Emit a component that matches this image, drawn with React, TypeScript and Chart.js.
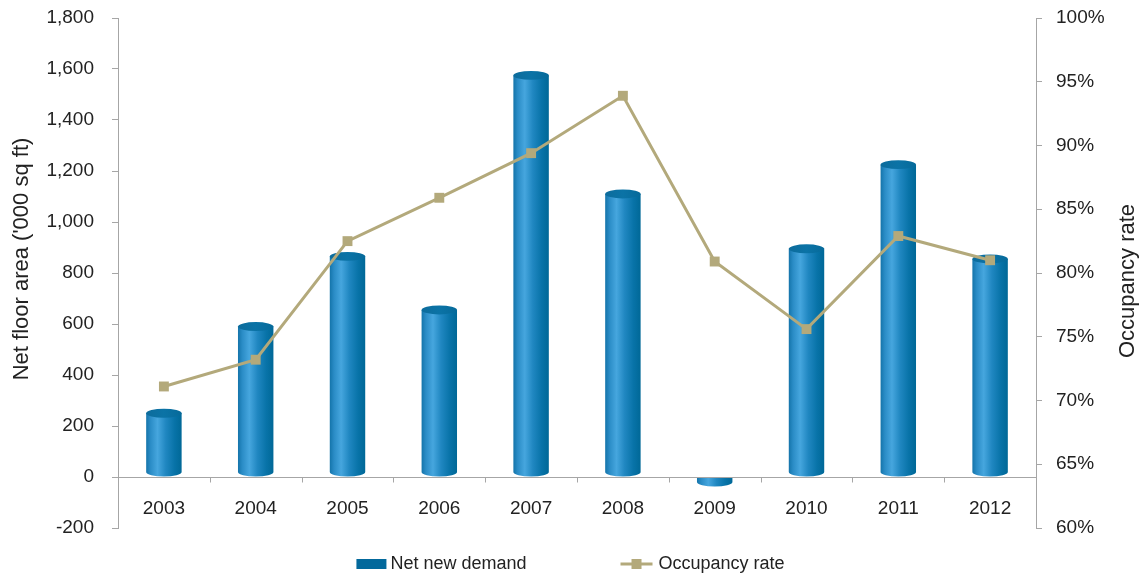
import React, { useEffect, useRef } from 'react';
import { Chart, registerables } from 'chart.js';

Chart.register(...registerables);

// Categories and series
const years = ['2003', '2004', '2005', '2006', '2007', '2008', '2009', '2010', '2011', '2012'];
const netNewDemand = [250, 590, 865, 655, 1575, 1110, -20, 895, 1225, 855];
const occupancyRate = [71.1, 73.2, 82.5, 85.9, 89.4, 93.9, 80.9, 75.6, 82.9, 81.0];

// Axis ranges
const areaMin = -200;
const areaMax = 1800;
const areaStep = 200;
const rateMin = 60;
const rateMax = 100;
const rateStep = 5;

const seriesNames = ['Net new demand', 'Occupancy rate'];
const leftTitle = "Net floor area ('000 sq ft)";
const rightTitle = 'Occupancy rate';

const FONT = '"Liberation Sans", Arial, Helvetica, sans-serif';
const AXIS_GREY = '#a6a6a6';
const TEXT = '#222222';
const LINE_TAN = '#b3a97b';
const BAR_SOLID = '#03699c';

function bodyGradient(ctx: CanvasRenderingContext2D, left: number, right: number) {
  const g = ctx.createLinearGradient(left, 0, right, 0);
  g.addColorStop(0, '#1474aa');
  g.addColorStop(0.12, '#2a8cc6');
  g.addColorStop(0.32, '#46a6de');
  g.addColorStop(0.55, '#2087c1');
  g.addColorStop(0.8, '#0873a8');
  g.addColorStop(1, '#006897');
  return g;
}

// Draws each bar of the bar dataset as a cylinder
const cylinderPlugin = {
  id: 'cylinders',
  afterDatasetDraw(chart: any, args: any) {
    if (args.meta.type !== 'bar') return;
    const ctx: CanvasRenderingContext2D = chart.ctx;
    ctx.save();
    args.meta.data.forEach((el: any) => {
      const { x, y, base, width } = el.getProps(['x', 'y', 'base', 'width'], true);
      const rx = width / 2;
      const ry = Math.max(3, width * 0.125);
      const left = x - rx;
      const right = x + rx;
      ctx.beginPath();
      if (y <= base) {
        ctx.moveTo(left, y);
        ctx.lineTo(left, base - ry);
        ctx.ellipse(x, base - ry, rx, ry, 0, Math.PI, 0, true);
        ctx.lineTo(right, y);
        ctx.closePath();
        ctx.fillStyle = bodyGradient(ctx, left, right);
        ctx.fill();
        // top face
        const tg = ctx.createLinearGradient(left, 0, right, 0);
        tg.addColorStop(0, '#0d6c9c');
        tg.addColorStop(0.5, '#0b73a6');
        tg.addColorStop(1, '#066a9a');
        ctx.beginPath();
        ctx.ellipse(x, y, rx, ry, 0, 0, Math.PI * 2);
        ctx.fillStyle = tg;
        ctx.fill();
      } else {
        ctx.moveTo(left, base);
        ctx.lineTo(left, y);
        ctx.ellipse(x, y, rx, ry, 0, Math.PI, 0, true);
        ctx.lineTo(right, base);
        ctx.closePath();
        ctx.fillStyle = bodyGradient(ctx, left, right);
        ctx.fill();
      }
    });
    ctx.restore();
  },
};

// Category axis drawn along the zero line, plus axis titles and legend
const decorPlugin = {
  id: 'decor',
  afterDraw(chart: any) {
    const ctx: CanvasRenderingContext2D = chart.ctx;
    const xs = chart.scales.x;
    const ys = chart.scales.y;
    const { left, right } = chart.chartArea;
    const zeroY = Math.round(ys.getPixelForValue(0)) + 0.5;
    const n = years.length;
    const step = n > 1 ? xs.getPixelForValue(1) - xs.getPixelForValue(0) : right - left;

    ctx.save();
    ctx.strokeStyle = AXIS_GREY;
    ctx.lineWidth = 1;
    ctx.beginPath();
    ctx.moveTo(left, zeroY);
    ctx.lineTo(right, zeroY);
    for (let i = 0; i <= n; i++) {
      const bx = Math.round(xs.getPixelForValue(0) - step / 2 + i * step) + 0.5;
      ctx.moveTo(bx, zeroY);
      ctx.lineTo(bx, zeroY + 5);
    }
    ctx.stroke();

    ctx.fillStyle = TEXT;
    ctx.font = `19px ${FONT}`;
    ctx.textAlign = 'center';
    ctx.textBaseline = 'middle';
    years.forEach((label, i) => {
      ctx.fillText(label, xs.getPixelForValue(i), zeroY + 31);
    });

    // axis titles
    ctx.font = `22px ${FONT}`;
    ctx.textBaseline = 'alphabetic';
    ctx.save();
    ctx.translate(28, 259);
    ctx.rotate(-Math.PI / 2);
    ctx.fillText(leftTitle, 0, 0);
    ctx.restore();
    ctx.save();
    ctx.translate(1134, 281);
    ctx.rotate(-Math.PI / 2);
    ctx.fillText(rightTitle, 0, 0);
    ctx.restore();

    // legend
    ctx.font = `18px ${FONT}`;
    ctx.textAlign = 'left';
    ctx.textBaseline = 'middle';
    const w1 = ctx.measureText(seriesNames[0]).width;
    const w2 = ctx.measureText(seriesNames[1]).width;
    const item1 = 30 + 4 + w1;
    const item2 = 32 + 6 + w2;
    const gap = 94;
    const total = item1 + gap + item2;
    const ly = 564;
    let lx = (chart.width - total) / 2;
    ctx.fillStyle = BAR_SOLID;
    ctx.fillRect(lx, ly - 5, 30, 10);
    ctx.fillStyle = TEXT;
    ctx.fillText(seriesNames[0], lx + 34, ly);
    lx += item1 + gap;
    ctx.strokeStyle = LINE_TAN;
    ctx.lineWidth = 3;
    ctx.beginPath();
    ctx.moveTo(lx, ly);
    ctx.lineTo(lx + 32, ly);
    ctx.stroke();
    ctx.fillStyle = LINE_TAN;
    ctx.fillRect(lx + 16 - 5, ly - 5, 10, 10);
    ctx.fillStyle = TEXT;
    ctx.fillText(seriesNames[1], lx + 38, ly);
    ctx.restore();
  },
};

export default function App() {
  const canvasRef = useRef<HTMLCanvasElement | null>(null);

  useEffect(() => {
    const canvas = canvasRef.current;
    if (!canvas) return;
    const chart = new Chart(canvas, {
      type: 'bar',
      data: {
        labels: years,
        datasets: [
          {
            type: 'bar',
            label: seriesNames[0],
            data: netNewDemand,
            yAxisID: 'y',
            backgroundColor: 'rgba(0,0,0,0)',
            borderWidth: 0,
            categoryPercentage: 1,
            barPercentage: 0.386,
            order: 1,
          },
          {
            type: 'line',
            label: seriesNames[1],
            data: occupancyRate,
            yAxisID: 'y1',
            borderColor: LINE_TAN,
            backgroundColor: LINE_TAN,
            borderWidth: 3,
            pointStyle: 'rect',
            pointRadius: 7,
            pointBorderWidth: 0,
            pointBackgroundColor: LINE_TAN,
            tension: 0,
            order: 0,
          },
        ],
      },
      options: {
        responsive: false,
        animation: false,
        layout: { padding: { top: 18, bottom: 50, left: 0, right: 0 } },
        plugins: {
          legend: { display: false },
          tooltip: { enabled: false },
        },
        scales: {
          x: {
            type: 'category',
            display: false,
            offset: true,
          },
          y: {
            position: 'left',
            min: areaMin,
            max: areaMax,
            afterFit: (s: any) => {
              s.width = 118;
              s.paddingTop = 0;
              s.paddingBottom = 0;
            },
            ticks: {
              stepSize: areaStep,
              padding: 18,
              color: TEXT,
              font: { family: FONT, size: 19 },
              callback: (v: any) => Number(v).toLocaleString('en-US'),
            },
            grid: {
              drawOnChartArea: false,
              drawTicks: true,
              tickLength: 6,
              color: AXIS_GREY,
            },
            border: { color: AXIS_GREY, width: 1 },
          },
          y1: {
            position: 'right',
            min: rateMin,
            max: rateMax,
            afterFit: (s: any) => {
              s.width = 105;
              s.paddingTop = 0;
              s.paddingBottom = 0;
            },
            ticks: {
              stepSize: rateStep,
              padding: 14,
              color: TEXT,
              font: { family: FONT, size: 19 },
              callback: (v: any) => `${v}%`,
            },
            grid: {
              drawOnChartArea: false,
              drawTicks: true,
              tickLength: 6,
              color: AXIS_GREY,
            },
            border: { color: AXIS_GREY, width: 1 },
          },
        },
      },
      plugins: [cylinderPlugin, decorPlugin],
    } as any);
    return () => chart.destroy();
  }, []);

  return (
    <div style={{ position: 'absolute', left: 0, top: 0, width: 1141, height: 578, background: '#ffffff' }}>
      <canvas ref={canvasRef} width={1141} height={578} style={{ display: 'block' }} />
    </div>
  );
}
